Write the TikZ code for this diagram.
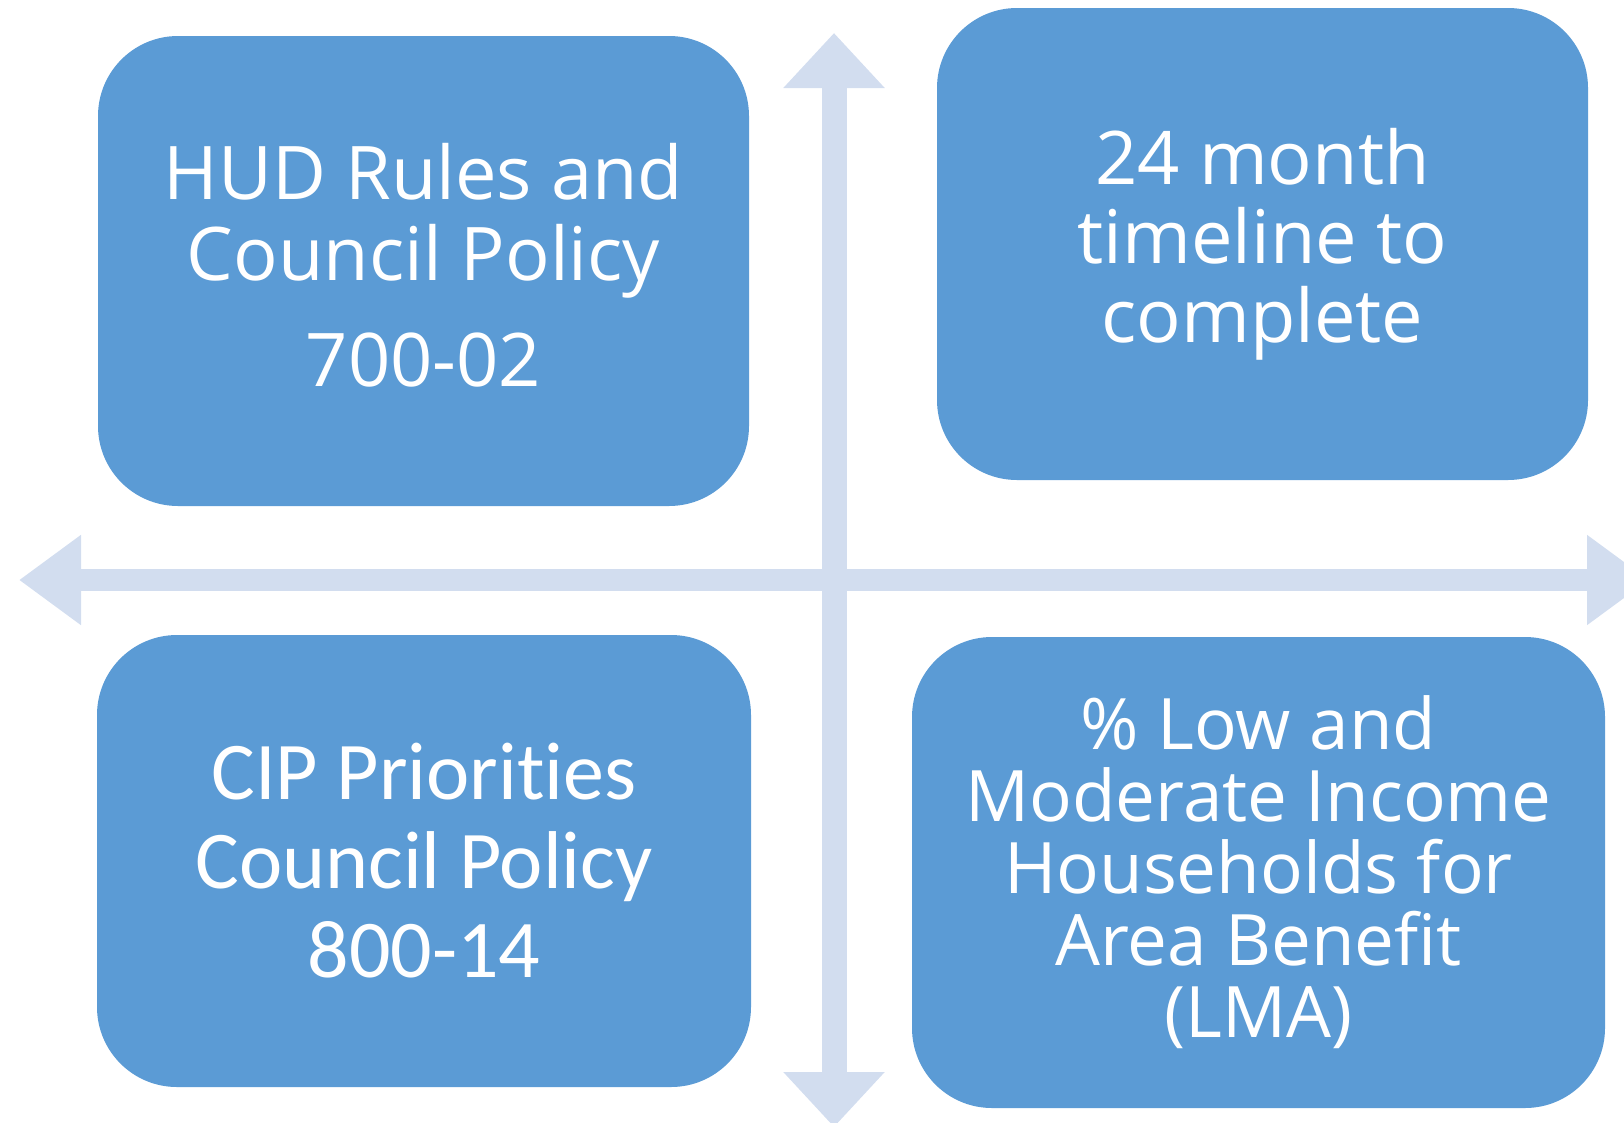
\documentclass[tikz,border=0pt]{standalone}
\usepackage{fontspec}
\usetikzlibrary{arrows.meta}
\newfontfamily\opensans{Open Sans}
\newfontfamily\carlito{Carlito}
\definecolor{cardblue}{HTML}{5B9BD5}
\definecolor{axisblue}{HTML}{D2DDEF}
\begin{document}
\begin{tikzpicture}[x=1pt, y=-1pt,
  card/.style={fill=cardblue, text=white, rounded corners=80pt, inner sep=0pt, align=center}]
\clip (0,0) rectangle (1624,1122);
\coordinate (W) at (19,580);
\coordinate (E) at (1649,580);
\coordinate (N) at (834,33);
\coordinate (S) at (834,1127);
\draw[axisblue, line width=22pt, {Triangle[width=86pt, length=62pt]}-{Triangle[width=86pt, length=62pt]}] (W) -- (E);
\draw[axisblue, line width=25pt, {Triangle[width=98pt, length=55pt]}-{Triangle[width=98pt, length=55pt]}] (N) -- (S);
\node [card, minimum width=651pt, minimum height=470pt, text depth=12pt,
  font=\opensans\fontsize{74}{81}\selectfont] (hud) at (423.5,271)
  {HUD Rules and\\Council Policy\\[25pt]700-02};
\node [card, minimum width=651pt, minimum height=472pt,
  font=\opensans\fontsize{74}{79}\selectfont] (timeline) at (1262.5,244)
  {24 month\\timeline to\\complete};
\node [card, minimum width=654pt, minimum height=452pt,
  font=\carlito\fontsize{82}{89}\selectfont] (cip) at (424,861)
  {CIP Priorit\kern0pt{}ies\\Council Policy\\800-14};
\node [card, minimum width=693pt, minimum height=471pt,
  font=\opensans\fontsize{71}{72}\selectfont] (lma) at (1258.5,872.5)
  {\% Low and\\Moderate Income\\Households for\\Area Benefit\\(LMA)};
\end{tikzpicture}
\end{document}
